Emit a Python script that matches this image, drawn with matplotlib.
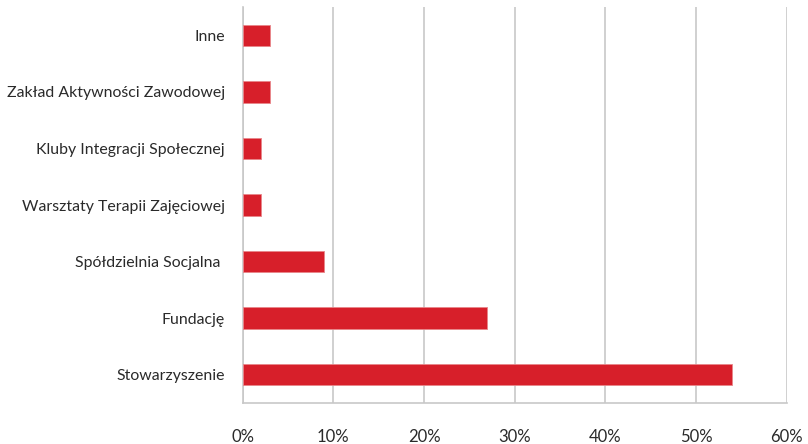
import matplotlib.pyplot as plt
from matplotlib.ticker import FuncFormatter, MultipleLocator

plt.rcParams['font.family'] = ['Lato', 'DejaVu Sans']

# share of respondents by organisation type (%)
categories = ['Stowarzyszenie', 'Fundację', 'Spółdzielnia Socjalna ',
              'Warsztaty Terapii Zajęciowej', 'Kluby Integracji Społecznej',
              'Zakład Aktywności Zawodowej', 'Inne']
values = [54, 27, 9, 2, 2, 3, 3]

bar_color = '#d71f2a'
grid_color = '#c8c8c8'
text_color = '#2a2a2a'

fig = plt.figure(figsize=(8.08, 4.44), dpi=100)
ax = fig.add_axes([0.3004, 0.0923, 0.6732, 0.8917])

ax.barh(range(len(categories)), values, height=0.38, color=bar_color,
        edgecolor='#e8868a', linewidth=0.6, zorder=3)

ax.set_xlim(0, 60)
ax.set_ylim(-0.5, len(categories) - 0.5)
ax.set_yticks(range(len(categories)))
ax.set_yticklabels(categories)
ax.xaxis.set_major_locator(MultipleLocator(10))
ax.xaxis.set_major_formatter(FuncFormatter(lambda v, _: f'{v:.0f}%'))

ax.grid(axis='x', color=grid_color, linewidth=1.2, zorder=0)
ax.tick_params(axis='y', length=0, pad=13, labelsize=11.4, labelcolor=text_color)
ax.tick_params(axis='x', length=0, pad=19, labelsize=12, labelcolor=text_color)

for side in ['top', 'right']:
    ax.spines[side].set_visible(False)
for side in ['left', 'bottom']:
    ax.spines[side].set_color(grid_color)
    ax.spines[side].set_linewidth(1.2)

fig.savefig('out.png', dpi=100)
